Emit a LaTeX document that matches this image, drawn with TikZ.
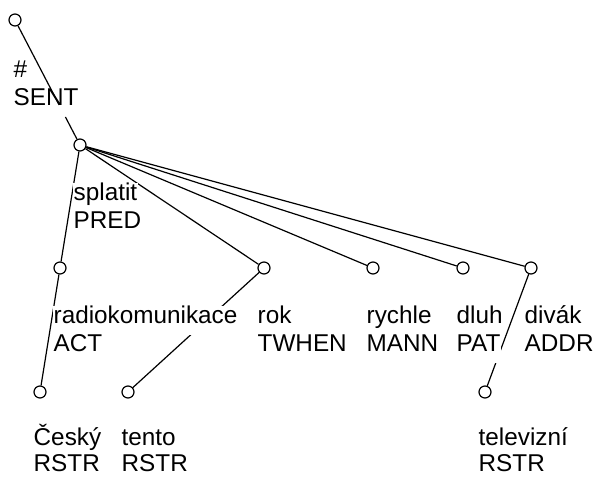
\documentclass[tikz,border=0pt]{standalone}
\usepackage{fontspec}
\setmainfont{Liberation Sans}
\usetikzlibrary{calc}

\tikzset{
    tnode/.style={circle,draw,line width=1.2pt,fill=white,minimum size=12pt,inner sep=0pt},
    row/.style={anchor=base west,fill=white,inner xsep=0.5pt,inner ysep=0pt,
        text height=17pt,text depth=12pt,font=\fontsize{24.3}{28}\selectfont},
    edge/.style={line width=1.2pt},
}

\begin{document}
\begin{tikzpicture}[x=1pt,y=-1pt]
        \useasboundingbox (0,0) rectangle (595,477);
        % tree nodes
        \node[tnode] (root) at (15,20) {};
        \node[tnode] (splatit) at (80,145) {};
        \node[tnode] (radio) at (60,268) {};
        \node[tnode] (rok) at (264,268) {};
        \node[tnode] (rychle) at (373,268) {};
        \node[tnode] (dluh) at (463,268) {};
        \node[tnode] (divak) at (531,268) {};
        \node[tnode] (cesky) at (40,392) {};
        \node[tnode] (tento) at (128,392) {};
        \node[tnode] (televizni) at (485,392) {};
        % root labels
        \node[row] (root-w) at ($(root)+(-2,57)$) {\#};
        \node[row] (root-f) at ($(root)+(-2,85)$) {SENT};
        % edges
        \draw[edge] (root) -- ($(root)!.68!(splatit)$);
        \draw[edge] ($(root)!.776!(splatit)$) -- (splatit);
        \foreach \c in {radio, rok, rychle, dluh, divak}
            \draw[edge] (splatit) -- (\c);
        \draw[edge] (radio) -- (cesky);
        \draw[edge] (rok) -- (tento);
        \draw[edge] (divak) -- (televizni);
        % word and functor of each node
        \foreach \n/\w/\f in {splatit/splatit/PRED, radio/radiokomunikace/ACT,
                rok/rok/TWHEN, rychle/rychle/MANN, dluh/dluh/PAT, divak/divák/ADDR} {
            \node[row] (\n-w) at ($(\n)+(-7,55)$) {\w};
            \node[row] (\n-f) at ($(\n)+(-7,83)$) {\f};
        }
        % bottom row, functors kept inside the page
        \foreach \n/\w/\f in {cesky/Český/RSTR, tento/tento/RSTR, televizni/televizní/RSTR} {
            \node[row] (\n-w) at ($(\n)+(-7,53)$) {\w};
            \node[row,text depth=1pt] (\n-f) at ($(\n)+(-7,79)$) {\f};
        }
    \end{tikzpicture}
\end{document}
